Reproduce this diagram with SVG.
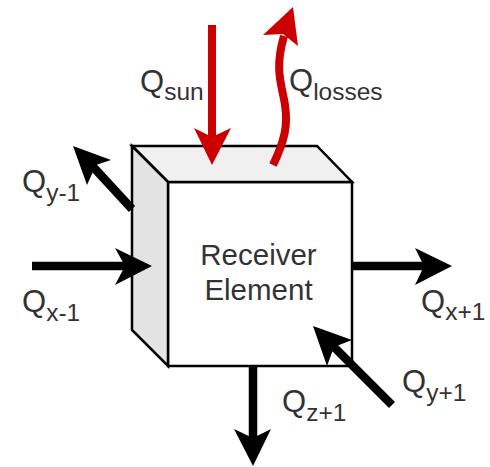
<svg xmlns="http://www.w3.org/2000/svg" width="490" height="467" viewBox="0 0 490 467">
<style>
.f{stroke:#000;stroke-width:2.5;stroke-linejoin:miter}
.k{fill:none;stroke:#000;stroke-width:8.500}
.r{fill:none;stroke:#c00;stroke-width:8}
.ah{fill:#000}
.ar{fill:#c00}
text{font-family:"Liberation Sans",Arial,sans-serif;fill:#333;font-size:31px}
.s{font-size:24.500px}
</style>
<rect width="490" height="467" fill="#fff"/>
<g id="receiver-element">
<path class="f" style="fill:#fff" d="M168 182H352V366H168Z"/>
<path class="f" style="fill:#f0f0f0" d="M132 146H317L352 182H168Z"/>
<path class="f" style="fill:#e3e3e3" d="M132 146L168 182V366L132 330Z"/>
<text x="258.500" y="265" text-anchor="middle" style="font-size:29.500px">Receiver</text>
<text x="258.500" y="300" text-anchor="middle" style="font-size:29.500px">Element</text>
</g>
<g id="connectors">
<path class="r" d="M212 25V145"/>
<path class="ar" d="M212 165L194 128L212 137L231 128Z"/>
<path class="r" d="M273 165C285 140 288 125 285 105C282 85 274 70 284 36"/>
<path class="ar" d="M293 7L298 46L283 34L263 35Z"/>
<path class="k" d="M132 209L85 158"/>
<path class="ah" d="M73 146L111 160L96 165L87 185Z"/>
<path class="k" d="M32 266H130"/>
<path class="ah" d="M152 266L115 248L125 266L115 285Z"/>
<path class="k" d="M353 266H435"/>
<path class="ah" d="M452 266L415 248L424 266L415 285Z"/>
<path class="k" d="M392 405L328 341"/>
<path class="ah" d="M313 326L352 340L334 347L327 366Z"/>
<path class="k" d="M253 367V445"/>
<path class="ah" d="M253 466L234 429L253 438L271 429Z"/>
</g>
<g id="labels">
<text x="140" y="92">Q<tspan class="s" dy="8">sun</tspan></text>
<text x="289" y="91">Q<tspan class="s" dy="9">losses</tspan></text>
<text x="22" y="192">Q<tspan class="s" dy="9">y-1</tspan></text>
<text x="22" y="312">Q<tspan class="s" dy="9">x-1</tspan></text>
<text x="421" y="312">Q<tspan class="s" dy="8">x+1</tspan></text>
<text x="402" y="392">Q<tspan class="s" dy="9">y+1</tspan></text>
<text x="282" y="412">Q<tspan class="s" dy="9">z+1</tspan></text>
</g>
</svg>
